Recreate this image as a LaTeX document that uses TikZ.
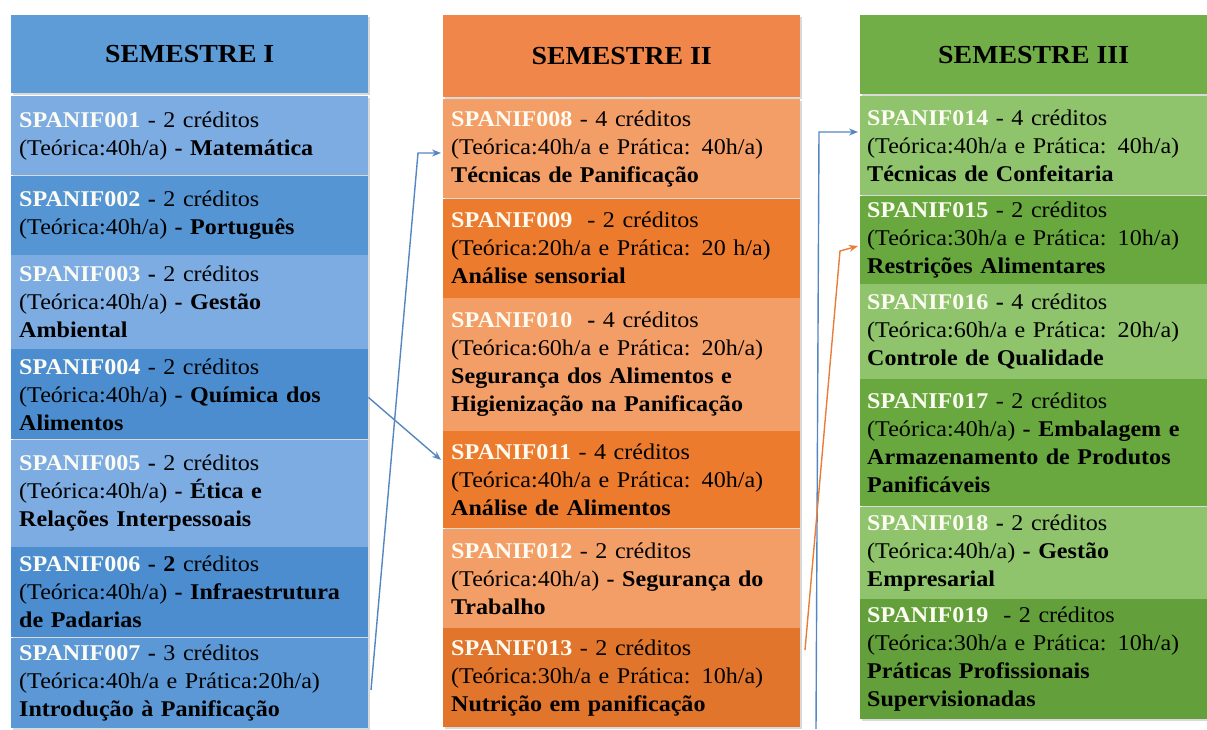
\documentclass[tikz,border=0pt]{standalone}
\usepackage{fontspec}
\setmainfont{Liberation Serif}[FakeStretch=1.07]
\usetikzlibrary{positioning,arrows.meta,backgrounds}

\definecolor{hdblue}{RGB}{93,156,214}
\definecolor{blueL}{RGB}{124,172,225}
\definecolor{blueD}{RGB}{86,149,211}
\definecolor{blueDD}{RGB}{76,141,208}
\definecolor{hdorange}{RGB}{240,134,74}
\definecolor{orangeL}{RGB}{244,158,103}
\definecolor{orangeD}{RGB}{237,123,46}
\definecolor{hdgreen}{RGB}{113,174,72}
\definecolor{greenL}{RGB}{143,195,108}
\definecolor{greenD}{RGB}{104,168,62}
\definecolor{codewhite}{RGB}{252,252,242}
\definecolor{linkblue}{RGB}{84,134,192}
\definecolor{linkorange}{RGB}{232,125,55}

\newcommand{\spcode}[1]{\textbf{\textcolor{codewhite}{#1}}}
\newcommand{\rowfont}{\fontsize{22.5}{28}\selectfont}
\newcommand{\headfont}{\fontsize{26}{30}\selectfont\bfseries}

\tikzset{
  semhead/.style={anchor=north west, inner sep=0pt, font=\headfont, text=black},
  subj/.style={anchor=north west, inner xsep=8pt, inner ysep=0pt, align=left, font=\rowfont},
  subjA/.style={subj, text width=341pt},
  subjC/.style={subj, inner xsep=7pt, text width=333pt},
  shade/.style={fill=black, opacity=0.15},
  link/.style={line width=1.4pt, -{Stealth[length=9pt,width=7pt]}},
}

\begin{document}
\begin{tikzpicture}[x=1pt,y=-1pt]
  \useasboundingbox (0,0) rectangle (1207,729);

  % semestre I
  \node[semhead, fill=hdblue, minimum width=357pt, minimum height=78pt] (h1) at (11,15) {SEMESTRE I};
  \node[subjA, fill=blueL, minimum height=79pt] (s1) at (11,96)
    {\spcode{SPANIF001} - 2 créditos\\(Teórica:40h/a) \textbf{- Matemática}};
  \node[subjA, fill=blueD, minimum height=79pt] (s2) at (s1.south west)
    {\spcode{SPANIF002} \textbf{-} 2 créditos\\(Teórica:40h/a) \textbf{- Português}};
  \node[subjA, fill=blueL, minimum height=94pt] (s3) at (s2.south west)
    {\spcode{SPANIF003} \textbf{-} 2 créditos\\(Teórica:40h/a) \textbf{- Gestão}\\\textbf{Ambiental}};
  \node[subjA, fill=blueDD, minimum height=90pt] (s4) at (s3.south west)
    {\spcode{SPANIF004} - 2 créditos\\(Teórica:40h/a) \textbf{- Química dos}\\\textbf{Alimentos}};
  \node[subjA, fill=blueL, minimum height=107pt] (s5) at (s4.south west)
    {\spcode{SPANIF005} \textbf{-} 2 créditos\\(Teórica:40h/a) \textbf{- Ética e}\\\textbf{Relações Interpessoais}};
  \node[subjA, fill=blueDD, minimum height=90pt] (s6) at (s5.south west)
    {\spcode{SPANIF006} \textbf{- 2} créditos\\(Teórica:40h/a) \textbf{- Infraestrutura}\\\textbf{de Padarias}};
  \node[subjA, fill=blueD!85!blueL, minimum height=90pt] (s7) at (s6.south west)
    {\spcode{SPANIF007} \textbf{-} 3 créditos\\(Teórica:40h/a e Prática:20h/a)\\\textbf{Introdução à Panificação}};

  % semestre II
  \node[semhead, fill=hdorange, minimum width=357pt, minimum height=82pt] (h2) at (443,15) {SEMESTRE II};
  \node[subjA, fill=orangeL, minimum height=99pt] (s8) at (443,99)
    {\spcode{SPANIF008} - 4 créditos\\(Teórica:40h/a e Prática: 40h/a)\\\textbf{Técnicas de Panificação}};
  \node[subjA, fill=orangeD, minimum height=99pt] (s9) at (s8.south west)
    {\spcode{SPANIF009} \ - 2 créditos\\(Teórica:20h/a e Prática: 20 h/a)\\\textbf{Análise sensorial}};
  \node[subjA, fill=orangeL, minimum height=133pt] (s10) at (s9.south west)
    {\spcode{SPANIF010} \ \textbf{-} 4 créditos\\(Teórica:60h/a e Prática: 20h/a)\\\textbf{Segurança dos Alimentos e}\\\textbf{Higienização na Panificação}};
  \node[subjA, fill=orangeD, minimum height=97pt] (s11) at (s10.south west)
    {\spcode{SPANIF011} - 4 créditos\\(Teórica:40h/a e Prática: 40h/a)\\\textbf{Análise de Alimentos}};
  \node[subjA, fill=orangeL, minimum height=99pt] (s12) at (s11.south west)
    {\spcode{SPANIF012} - 2 créditos\\(Teórica:40h/a) \textbf{- Segurança do}\\\textbf{Trabalho}};
  \node[subjA, fill=orangeD!95!black, minimum height=99pt] (s13) at (s12.south west)
    {\spcode{SPANIF013} - 2 créditos\\(Teórica:30h/a e Prática: 10h/a)\\\textbf{Nutrição em panificação}};

  % semestre III
  \node[semhead, fill=hdgreen, minimum width=347pt, minimum height=79pt] (h3) at (860,15) {SEMESTRE III};
  \node[subjC, fill=greenL, minimum height=99pt] (s14) at (860,96)
    {\spcode{SPANIF014} - 4 créditos\\(Teórica:40h/a e Prática: 40h/a)\\\textbf{Técnicas de Confeitaria}};
  \node[subjC, fill=greenD, minimum height=88pt] (s15) at (s14.south west)
    {\spcode{SPANIF015} - 2 créditos\\(Teórica:30h/a e Prática: 10h/a)\\\textbf{Restrições Alimentares}};
  \node[subjC, fill=greenL, minimum height=95pt] (s16) at (s15.south west)
    {\spcode{SPANIF016} \textbf{-} 4 créditos\\(Teórica:60h/a e Prática: 20h/a)\\\textbf{Controle de Qualidade}};
  \node[subjC, fill=greenD, minimum height=127pt] (s17) at (s16.south west)
    {\spcode{SPANIF017} - 2 créditos\\(Teórica:40h/a) \textbf{- Embalagem e}\\\textbf{Armazenamento de Produtos}\\\textbf{Panificáveis}};
  \node[subjC, fill=greenL, minimum height=92pt] (s18) at (s17.south west)
    {\spcode{SPANIF018} \textbf{-} 2 créditos\\(Teórica:40h/a) \textbf{- Gestão}\\\textbf{Empresarial}};
  \node[subjC, fill=greenD!95!black, minimum height=120pt] (s19) at (s18.south west)
    {\spcode{SPANIF019} \ - 2 créditos\\(Teórica:30h/a e Prática: 10h/a)\\\textbf{Práticas Profissionais}\\\textbf{Supervisionadas}};

  % shadows
  \begin{scope}[on background layer]
    \fill[shade] ([shift={(2,2)}]h1.north west) rectangle ([shift={(2,2)}]h1.south east);
    \fill[shade] ([shift={(2,2)}]s1.north west) rectangle ([shift={(2,2)}]s7.south east);
    \fill[shade] ([shift={(2,2)}]h2.north west) rectangle ([shift={(2,2)}]h2.south east);
    \fill[shade] ([shift={(2,2)}]s8.north west) rectangle ([shift={(2,2)}]s13.south east);
    \fill[shade] ([shift={(2,2)}]h3.north west) rectangle ([shift={(2,2)}]h3.south east);
    \fill[shade] ([shift={(2,2)}]s14.north west) rectangle ([shift={(2,2)}]s19.south east);
  \end{scope}

  % connectors
  \coordinate (p7) at (371,690);
  \coordinate (p7b) at (418,153);
  \coordinate (p11) at (441,460);
  \coordinate (pb) at (816,729);
  \coordinate (pbb) at (819,132);
  \coordinate (p13) at (805,650);
  \coordinate (p13b) at (840,251);
  \coordinate (p15) at (858,246);
  \draw[link, linkblue] (p7) -- (p7b) -- ([xshift=-2pt]p7b -| s8.west);
  \draw[link, linkblue] ([yshift=-3pt]s4.east) -- (p11);
  \draw[link, linkblue] (pb) -- (pbb) -- ([xshift=-2pt]pbb -| s14.west);
  \draw[link, linkorange] (p13) -- (p13b) -- (p15);
\end{tikzpicture}
\end{document}
